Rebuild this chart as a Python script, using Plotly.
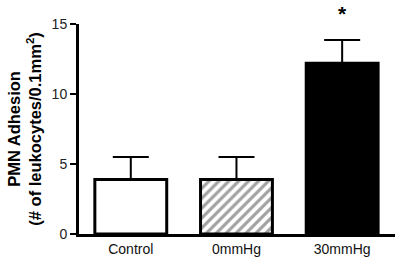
import plotly.graph_objects as go

categories = ["Control", "0mmHg", "30mmHg"]
values = [3.9, 3.9, 12.2]
errors = [1.6, 1.6, 1.65]
fills = ["white", "white", "black"]
patterns = ["", "/", ""]
y_ticks = [0, 5, 10, 15]

fig = go.Figure()
fig.add_trace(go.Bar(
    x=categories, y=values,
    width=0.68,
    marker=dict(color=fills, line=dict(color="black", width=3),
                pattern=dict(shape=patterns, fgcolor="black", bgcolor="white",
                             size=7, solidity=0.45)),
    error_y=dict(type="data", symmetric=False, array=errors,
                 arrayminus=[0, 0, 0], color="black", thickness=2, width=18),
    showlegend=False,
))

fig.add_annotation(x=categories[2], y=1.112, xref="x", yref="paper", text="<b>*</b>",
                   showarrow=False, yanchor="top",
                   font=dict(size=21, color="black", family="Liberation Sans"))
fig.add_annotation(x=-0.175, y=0.5, xref="paper", yref="paper",
                   text="<b>PMN Adhesion</b><br><b>(# of leukocytes/0.1mm<sup>2</sup>)</b>",
                   textangle=-90, showarrow=False, xanchor="center", yanchor="middle",
                   font=dict(size=16.5, color="black", family="Liberation Sans"))

fig.update_layout(
    width=395, height=261,
    margin=dict(l=79, r=0, t=24, b=27),
    plot_bgcolor="white", paper_bgcolor="white",
    font=dict(family="Liberation Sans", size=14, color="#111"),
)
fig.update_xaxes(range=[-0.49, 2.5], showline=True, linewidth=3, linecolor="black",
                 ticks="", showgrid=False, zeroline=False,
                 tickfont=dict(size=14, color="#111"))
fig.update_yaxes(range=[0, 15], tickvals=y_ticks, showline=True, linewidth=3,
                 linecolor="black", ticks="outside", ticklen=6, tickwidth=2,
                 tickcolor="black", showgrid=False, zeroline=False,
                 tickfont=dict(size=14, color="#222"))

fig.write_html("out.html")
